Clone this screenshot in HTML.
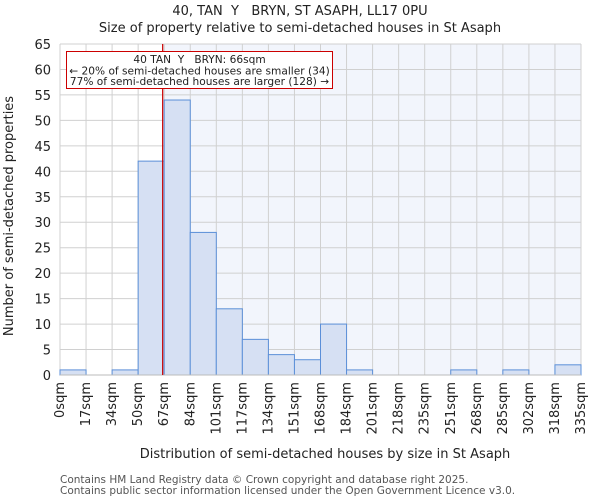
<!DOCTYPE html>
<html><head><meta charset="utf-8"><style>
body{margin:0;background:#fff;font-family:"DejaVu Sans","Liberation Sans",sans-serif;}
svg text{font-family:"DejaVu Sans","Liberation Sans",sans-serif;white-space:pre;}
</style></head><body>
<svg id="chart" width="600" height="500" xmlns="http://www.w3.org/2000/svg">
<g id="g"></g>
</svg>
<script>
const binLabels=["0sqm","17sqm","34sqm","50sqm","67sqm","84sqm","101sqm","117sqm","134sqm","151sqm","168sqm","184sqm","201sqm","218sqm","235sqm","251sqm","268sqm","285sqm","302sqm","318sqm","335sqm"];
const binEdges=[0,17,34,50,67,84,101,117,134,151,168,184,201,218,235,251,268,285,302,318,335];
const counts=[1,0,1,42,54,28,13,7,4,3,10,1,0,0,0,1,0,1,0,2];
const yTicks=[0,5,10,15,20,25,30,35,40,45,50,55,60,65];
const propertySize=66;
const L=60,R=581,T=44,B=375,yMax=65;
const ns="http://www.w3.org/2000/svg";
const g=document.getElementById('g');
function el(t,a,txt){const e=document.createElementNS(ns,t);for(const k in a)e.setAttribute(k,a[k]);if(txt!=null)e.textContent=txt;g.appendChild(e);return e;}
const n=counts.length;
function xi(i){return L+(R-L)*i/n;}
function xv(v){let i=0;while(i<n-1&&v>binEdges[i+1])i++;return xi(i)+(v-binEdges[i])/(binEdges[i+1]-binEdges[i])*(R-L)/n;}
function y(v){return B-(B-T)*v/yMax;}
const px=xv(propertySize);
let e;
e=el('rect',{x:L,y:T,width:R-L,height:B-T,fill:'#fff'});

e=el('rect',{x:px,y:T,width:R-px,height:B-T,fill:'#f2f5fc'});

for(let i=0;i<=n;i++){e=el('line',{x1:xi(i),x2:xi(i),y1:T,y2:B,stroke:'#d0d0d0','stroke-width':1});
}
yTicks.forEach(t=>{e=el('line',{x1:L,x2:R,y1:y(t),y2:y(t),stroke:'#d0d0d0','stroke-width':1});

e=el('text',{x:L-9,y:y(t)+5,'text-anchor':'end','font-size':13,fill:'#222'},t);
});
counts.forEach((c,i)=>{if(c<=0)return;
e=el('rect',{x:xi(i),y:y(c),width:(R-L)/n,height:B-y(c),fill:'#d6e0f3',stroke:'#5b8fd8','stroke-width':1});
});
binLabels.forEach((lb,i)=>{const x=xi(i)+4;
e=el('text',{x:x,y:382,'text-anchor':'end','font-size':13,fill:'#222',transform:`rotate(-90 ${x} 382)`},lb);
});
e=el('line',{x1:L,x2:R,y1:B,y2:B,stroke:'#bbb'});

e=el('line',{x1:px,x2:px,y1:T,y2:B,stroke:'#cc0000','stroke-width':1.2});

e=el('rect',{x:66.5,y:51.5,width:266,height:37,fill:'#fff',stroke:'#cc0000','stroke-width':1});

[["40 TAN  Y   BRYN: 66sqm",63],["← 20% of semi-detached houses are smaller (34)",74.5],["77% of semi-detached houses are larger (128) →",85]].forEach(([t,yy],k)=>{
e=el('text',{x:199.5,y:yy,'text-anchor':'middle','font-size':10.6,fill:'#222'},t);
});
e=el('text',{x:300,y:15,'text-anchor':'middle','font-size':13,fill:'#222'},"40, TAN  Y   BRYN, ST ASAPH, LL17 0PU");

e=el('text',{x:300,y:32,'text-anchor':'middle','font-size':13,fill:'#222'},"Size of property relative to semi-detached houses in St Asaph");

e=el('text',{x:325,y:458,'text-anchor':'middle','font-size':13,fill:'#222'},"Distribution of semi-detached houses by size in St Asaph");

e=el('text',{x:13,y:216,'text-anchor':'middle','font-size':13,fill:'#222',transform:'rotate(-90 13 216)'},"Number of semi-detached properties");

e=el('text',{x:60,y:483,'font-size':10.5,fill:'#555'},"Contains HM Land Registry data © Crown copyright and database right 2025.");

e=el('text',{x:60,y:494,'font-size':10.5,fill:'#555'},"Contains public sector information licensed under the Open Government Licence v3.0.");

</script>
</body></html>
